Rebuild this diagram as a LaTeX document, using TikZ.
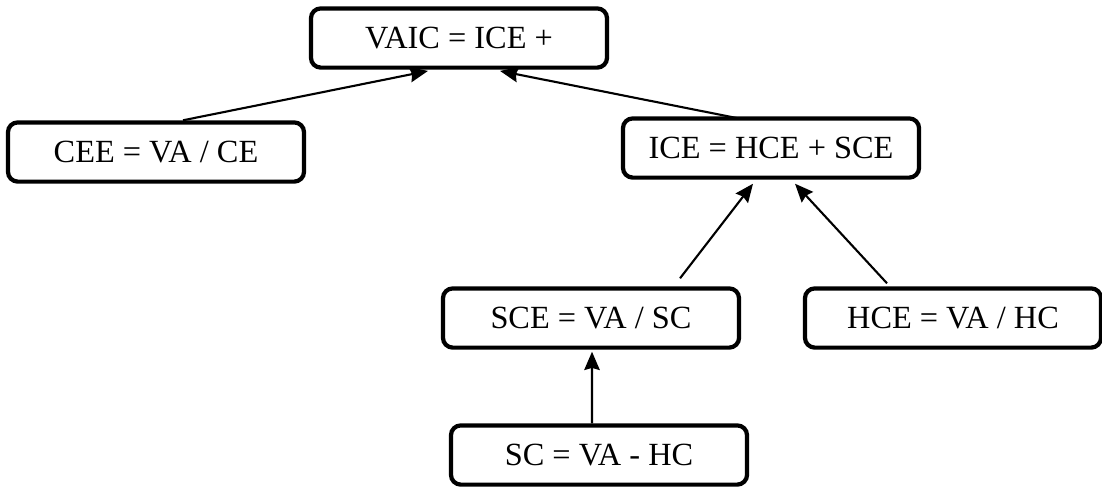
\documentclass[tikz,border=0pt]{standalone}
\usepackage{fontspec}
\setmainfont{Liberation Serif}
\usepackage{tikz}
\usetikzlibrary{positioning,arrows.meta}

\begin{document}
\begin{tikzpicture}[x=0.025cm,y=-0.025cm,>={Stealth[length=13pt,width=11pt,inset=1.5pt]}]
  \tikzstyle{eqbox}=[draw=black,line width=3pt,rounded corners=7pt,
    minimum width=7.4cm,minimum height=1.48cm,align=center,inner sep=0pt,
    font=\fontsize{23}{27}\selectfont]
  \tikzstyle{link}=[->,line width=1.5pt]
  \useasboundingbox (0,0) rectangle (1102,489);
  \node[eqbox] (vaic) at (459,38) {VAIC = ICE +};
  \node[eqbox] (cee) at (156,152) {CEE = VA / CE};
  \node[eqbox] (ice) at (771,148) {ICE = HCE + SCE};
  \node[eqbox] (sce) at (591,318) {SCE = VA / SC};
  \node[eqbox] (hce) at (953,318) {HCE = VA / HC};
  \node[eqbox] (sc) at (599,455) {SC = VA - HC};
  \draw[link] ([xshift=0.675cm]cee.north) -- ([xshift=-0.775cm,yshift=-0.03cm]vaic.south);
  \draw[link] ([xshift=-0.825cm,yshift=-0.05cm]ice.north) -- ([xshift=1.025cm,yshift=-0.03cm]vaic.south);
  \draw[link] ([xshift=2.225cm,yshift=0.2cm]sce.north) -- ([xshift=-0.45cm,yshift=-0.1cm]ice.south);
  \draw[link] ([xshift=-1.65cm,yshift=0.075cm]hce.north) -- ([xshift=0.6cm,yshift=-0.1cm]ice.south);
  \draw[link] ([xshift=-0.175cm]sc.north) -- ([xshift=0.025cm,yshift=-0.05cm]sce.south);
\end{tikzpicture}
\end{document}
